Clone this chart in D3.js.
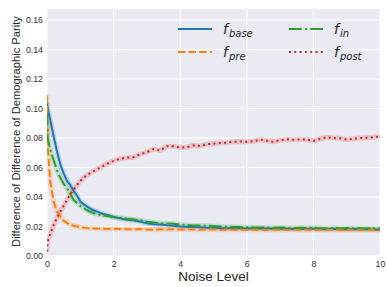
<!DOCTYPE html>
<html>
<head>
<meta charset="utf-8">
<script src="https://cdn.jsdelivr.net/npm/d3@7"></script>
<style>
html,body{margin:0;padding:0;background:#fff;}
svg{display:block;}
</style>
</head>
<body>
<svg id="chart" width="387" height="287"></svg>
<script>
const noiseLevels = [0, 0.02, 0.1, 0.2, 0.3, 0.4, 0.5, 0.6, 0.7, 0.8, 0.9, 1.0,
  1.2, 1.4, 1.6, 1.8, 2.0, 2.2, 2.4, 2.6, 2.8, 3.0, 3.2, 3.4, 3.6, 3.8, 4.0,
  4.2, 4.4, 4.6, 4.8, 5.0, 5.2, 5.4, 5.6, 5.8, 6.0, 6.2, 6.4, 6.6, 6.8, 7.0,
  7.2, 7.4, 7.6, 7.8, 8.0, 8.2, 8.4, 8.6, 8.8, 9.0, 9.2, 9.4, 9.6, 9.8, 10.0];

const fBase = [0.104, 0.100, 0.092, 0.081, 0.071, 0.062, 0.056, 0.051, 0.048, 0.044, 0.041, 0.037,
  0.0335, 0.031, 0.0292, 0.0278, 0.0265, 0.0255, 0.0246, 0.0242, 0.0233, 0.0222, 0.0216, 0.0213, 0.0208, 0.0205, 0.0200,
  0.0198, 0.0196, 0.0195, 0.0192, 0.0193, 0.0190, 0.0189, 0.0190, 0.0188, 0.0187, 0.0188, 0.0186, 0.0187, 0.0185, 0.0187,
  0.0185, 0.0183, 0.0185, 0.0184, 0.0185, 0.0183, 0.0182, 0.0184, 0.0182, 0.0181, 0.0183, 0.0181, 0.0181, 0.0179, 0.0178];

const fPre = [0.109, 0.074, 0.050, 0.037, 0.030, 0.027, 0.024, 0.0225, 0.021, 0.0205, 0.0200, 0.0195,
  0.0190, 0.0187, 0.0185, 0.0183, 0.0185, 0.0183, 0.0182, 0.0181, 0.0183, 0.0180, 0.0178, 0.0182, 0.0180, 0.0181, 0.0179,
  0.0181, 0.0180, 0.0178, 0.0180, 0.0179, 0.0177, 0.0180, 0.0178, 0.0179, 0.0177, 0.0179, 0.0178, 0.0176, 0.0179, 0.0178,
  0.0177, 0.0179, 0.0177, 0.0178, 0.0176, 0.0178, 0.0177, 0.0179, 0.0176, 0.0177, 0.0178, 0.0176, 0.0177, 0.0176, 0.0175];

const fIn = [0.097, 0.080, 0.072, 0.065, 0.058, 0.053, 0.049, 0.046, 0.042, 0.038, 0.036, 0.034,
  0.031, 0.029, 0.0278, 0.0272, 0.0265, 0.0258, 0.0252, 0.0248, 0.0242, 0.0232, 0.0228, 0.0222, 0.0220, 0.0218, 0.0213,
  0.0210, 0.0207, 0.0206, 0.0205, 0.0203, 0.0200, 0.0199, 0.0197, 0.0196, 0.0195, 0.0193, 0.0194, 0.0192, 0.0191, 0.0193,
  0.0191, 0.0190, 0.0192, 0.0190, 0.0193, 0.0189, 0.0188, 0.0190, 0.0189, 0.0190, 0.0188, 0.0189, 0.0187, 0.0188, 0.0186];

const fPost = [0.003, 0.010, 0.015, 0.021, 0.026, 0.030, 0.034, 0.038, 0.042, 0.045, 0.048, 0.051,
  0.055, 0.0575, 0.060, 0.0625, 0.0645, 0.066, 0.0667, 0.067, 0.069, 0.0705, 0.0725, 0.0715, 0.0745, 0.0745, 0.0735,
  0.0738, 0.0750, 0.0746, 0.0758, 0.0762, 0.0767, 0.0768, 0.0775, 0.0776, 0.0775, 0.0778, 0.0790, 0.0782, 0.0775, 0.0785,
  0.0790, 0.0789, 0.0790, 0.0790, 0.0780, 0.0795, 0.0805, 0.0800, 0.0798, 0.0790, 0.0795, 0.0800, 0.0802, 0.0805, 0.0810];

const xTicks = [0, 2, 4, 6, 8, 10];
const yTicks = [0.00, 0.02, 0.04, 0.06, 0.08, 0.10, 0.12, 0.14, 0.16];

const seriesDefs = [
  {key: "base", values: fBase, color: "#1f77b4", dash: null},
  {key: "pre", values: fPre, color: "#ff7f0e", dash: "7.4,3.2"},
  {key: "in", values: fIn, color: "#2ca02c", dash: "12.8,3.2,2,3.2"},
  {key: "post", values: fPost, color: "#d62728", dash: "2,3.3"}
];

const svg = d3.select("#chart");
const pL = 47, pR = 380, pT = 9, pB = 256;
const font = "'Liberation Sans', Arial, sans-serif";

const x = d3.scaleLinear().domain([0, 10]).range([pL, pR]);
const y = d3.scaleLinear().domain([0, 0.1675]).range([pB, pT]);

svg.append("rect").attr("x", pL).attr("y", pT)
  .attr("width", pR - pL).attr("height", pB - pT).attr("fill", "#eaeaf2");

// grid
svg.append("g").selectAll("line").data(xTicks).join("line")
  .attr("x1", d => x(d)).attr("x2", d => x(d)).attr("y1", pT).attr("y2", pB)
  .attr("stroke", "#fff").attr("stroke-width", 1.1);
svg.append("g").selectAll("line").data(yTicks).join("line")
  .attr("y1", d => y(d)).attr("y2", d => y(d)).attr("x1", pL).attr("x2", pR)
  .attr("stroke", "#fff").attr("stroke-width", 1.1);

// axes (labels only)
const xAxis = d3.axisBottom(x).tickValues(xTicks).tickSize(0).tickPadding(5).tickFormat(d3.format("d"));
const gx = svg.append("g").attr("transform", `translate(0,${pB})`).call(xAxis);
gx.select(".domain").remove();
gx.selectAll("text").attr("font-family", font).attr("font-size", 8.8).attr("fill", "#333");

const yAxis = d3.axisLeft(y).tickValues(yTicks).tickSize(0).tickPadding(4).tickFormat(d3.format(".2f"));
const gy = svg.append("g").attr("transform", `translate(${pL},0)`).call(yAxis);
gy.select(".domain").remove();
gy.selectAll("text").attr("font-family", font).attr("font-size", 8.8).attr("fill", "#333");

// clip
svg.append("clipPath").attr("id", "clip").append("rect")
  .attr("x", pL).attr("y", pT).attr("width", pR - pL).attr("height", pB - pT);

const line = d3.line().x((d, i) => x(noiseLevels[i])).y(d => y(d));
const plot = svg.append("g").attr("clip-path", "url(#clip)");

seriesDefs.forEach(s => {
  plot.append("path").attr("d", line(s.values)).attr("fill", "none")
    .attr("stroke", s.color).attr("stroke-opacity", 0.2).attr("stroke-width", 5)
    .attr("stroke-linejoin", "round");
});
seriesDefs.forEach(s => {
  plot.append("path").attr("d", line(s.values)).attr("fill", "none")
    .attr("stroke", s.color).attr("stroke-width", 2)
    .attr("stroke-dasharray", s.dash)
    .attr("stroke-linejoin", "round");
});

// legend
const legendItems = [
  {key: "base", sx: 178, ty: 29},
  {key: "pre", sx: 178, ty: 52},
  {key: "in", sx: 289, ty: 29},
  {key: "post", sx: 289, ty: 52}
];
const lg = svg.append("g");
legendItems.forEach(it => {
  const s = seriesDefs.find(d => d.key === it.key);
  lg.append("line").attr("x1", it.sx).attr("x2", it.sx + 34).attr("y1", it.ty).attr("y2", it.ty)
    .attr("stroke", s.color).attr("stroke-width", 2).attr("stroke-dasharray", s.dash);
  const t = lg.append("text").attr("x", it.sx + 45).attr("y", it.ty + 5)
    .attr("font-family", "'DejaVu Sans', sans-serif").attr("font-style", "italic")
    .attr("font-size", 14).attr("fill", "#262626");
  t.append("tspan").text("f");
  t.append("tspan").attr("font-size", 10).attr("dy", 3).attr("dx", 1).text(it.key);
});

// axis titles
svg.append("text").attr("x", (pL + pR) / 2).attr("y", 281)
  .attr("text-anchor", "middle").attr("font-family", font).attr("font-size", 13.5)
  .attr("fill", "#262626").text("Noise Level");
svg.append("text").attr("transform", `translate(20,${(pT + pB) / 2 - 1}) rotate(-90)`)
  .attr("text-anchor", "middle").attr("font-family", font).attr("font-size", 11.2)
  .attr("fill", "#262626").text("Difference of Difference of Demographic Parity");
</script>
</body>
</html>
